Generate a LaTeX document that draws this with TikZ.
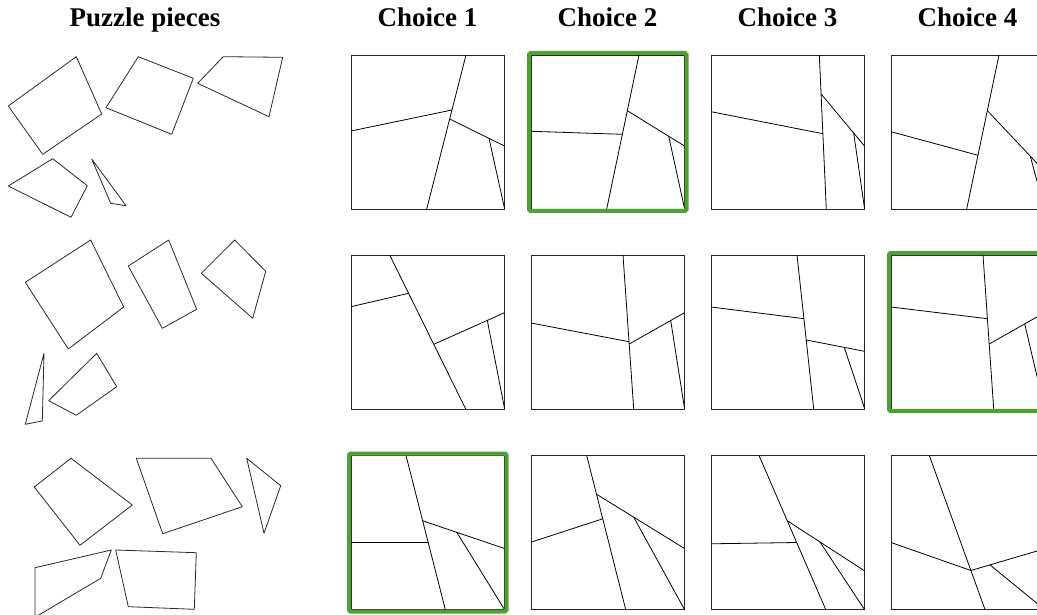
\documentclass[tikz,border=0pt]{standalone}
\usepackage{fontspec}
\setmainfont{Liberation Serif}
\definecolor{pickgreen}{RGB}{78, 161, 51}
\definecolor{edgegray}{RGB}{40, 40, 40}

\begin{document}
\begin{tikzpicture}[x=1pt, y=-1pt,
  heading/.style={font=\fontsize{27}{30}\selectfont\bfseries, anchor=base, inner sep=0pt},
  piece/.style={draw=edgegray, line width=0.8pt, line join=round},
  board/.style={draw=edgegray, line width=0.8pt},
  cut/.style={draw=black, line width=0.8pt},
  pick/.style={draw=pickgreen, line width=4pt, rounded corners=1.5pt}
]
  \useasboundingbox (0,0) rectangle (1037,615);
  \clip (0,0) rectangle (1037,615);

  % headings
  \node[heading] (hpieces) at (145,26.5) {Puzzle pieces};
  \node[heading] (hc1) at (427.5,26.5) {Choice 1};
  \node[heading] (hc2) at (607.5,26.5) {Choice 2};
  \node[heading] (hc3) at (787.5,26.5) {Choice 3};
  \node[heading] (hc4) at (967.5,26.5) {Choice 4};

  % puzzle 1: pieces
  \draw[piece] (76.3,56.7) -- (101.7,114) -- (42.7,154.3) -- (8.3,106) -- cycle;
  \draw[piece] (138.3,56.7) -- (193.3,78.3) -- (171.7,134.3) -- (106,107.7) -- cycle;
  \draw[piece] (223.3,56.7) -- (282.7,57.3) -- (269,116.7) -- (197.7,83.3) -- cycle;
  \draw[piece] (52.7,158.7) -- (87.3,185.7) -- (71,217.3) -- (8.3,186) -- cycle;
  \draw[piece] (91.7,159) -- (126,205.7) -- (110.7,203.3) -- cycle;

  % puzzle 2: pieces
  \draw[piece] (90.7,240) -- (123.7,307) -- (68.3,349) -- (25.3,282.3) -- cycle;
  \draw[piece] (168.7,240) -- (196.7,309.3) -- (162.3,328.3) -- (128.3,266) -- cycle;
  \draw[piece] (234.7,240) -- (265.7,271.3) -- (252.7,318.3) -- (201.3,273.3) -- cycle;
  \draw[piece] (44,353.3) -- (42.3,421) -- (25.3,424.3) -- cycle;
  \draw[piece] (96.7,353.3) -- (116.7,386.7) -- (76.3,415.3) -- (48.7,400.7) -- cycle;

  % puzzle 3: pieces
  \draw[piece] (71,458.3) -- (132.3,505) -- (80,545.3) -- (34.3,487) -- cycle;
  \draw[piece] (136.3,458.3) -- (211,458.3) -- (242.3,506.7) -- (162.7,533.7) -- cycle;
  \draw[piece] (246.7,458.3) -- (280.7,485.7) -- (264,533.3) -- cycle;
  \draw[piece] (35,567.7) -- (111.3,550) -- (100.7,578.3) -- (35,617.3) -- cycle;
  \draw[piece] (115.7,550) -- (196.3,552.7) -- (194.3,609.3) -- (128.3,606.7) -- cycle;

  % puzzle 1: choices
  \begin{scope}[shift={(351,55)}]
    \draw[board] (0,0) rectangle (153.5,154);
    \draw[cut] (115,0) -- (75.7,154);
    \draw[cut] (0,76) -- (101,55);
    \draw[cut] (98.7,64) -- (153.5,91);
    \draw[cut] (138,83.4) -- (153.5,153.3);
  \end{scope}
  \begin{scope}[shift={(531,55)}]
    \draw[board] (0,0) rectangle (153.5,154);
    \draw[cut] (108,0) -- (75.7,154);
    \draw[cut] (0,76.3) -- (91.4,79.3);
    \draw[cut] (96.3,55.7) -- (153.5,91);
    \draw[cut] (137.7,81.2) -- (153.5,153.3);
    \draw[pick] (-2,-2) rectangle (155.5,156);
  \end{scope}
  \begin{scope}[shift={(711,55)}]
    \draw[board] (0,0) rectangle (153.5,154);
    \draw[cut] (108.3,0) -- (115.3,154);
    \draw[cut] (0,56.7) -- (111.9,78.7);
    \draw[cut] (110.1,39) -- (153.5,91);
    \draw[cut] (142.7,78.1) -- (153.5,153.3);
  \end{scope}
  \begin{scope}[shift={(891,55)}]
    \draw[board] (0,0) rectangle (153.5,154);
    \draw[cut] (108,0) -- (75.7,154);
    \draw[cut] (0,76.7) -- (87,100.3);
    \draw[cut] (96.7,56) -- (153.5,116.3);
    \draw[cut] (139.3,101.2) -- (153.5,154);
  \end{scope}

  % puzzle 2: choices
  \begin{scope}[shift={(351,255)}]
    \draw[board] (0,0) rectangle (153.5,154);
    \draw[cut] (38.7,0) -- (114.7,154);
    \draw[cut] (0,51.7) -- (57.6,38.3);
    \draw[cut] (82.8,89.3) -- (153.5,57.7);
    \draw[cut] (136.3,65.4) -- (153.5,153.3);
  \end{scope}
  \begin{scope}[shift={(531,255)}]
    \draw[board] (0,0) rectangle (153.5,154);
    \draw[cut] (92,0) -- (102.7,154);
    \draw[cut] (0,68) -- (98,86.7);
    \draw[cut] (98.2,89) -- (153.5,57.7);
    \draw[cut] (139.7,65.5) -- (153.5,153.3);
  \end{scope}
  \begin{scope}[shift={(711,255)}]
    \draw[board] (0,0) rectangle (153.5,154);
    \draw[cut] (86,0) -- (102.7,154);
    \draw[cut] (0,52) -- (92.9,63.7);
    \draw[cut] (95.2,85) -- (153.5,96.3);
    \draw[cut] (133.3,92.4) -- (153.5,153.3);
  \end{scope}
  \begin{scope}[shift={(891,255)}]
    \draw[board] (0,0) rectangle (153.5,154);
    \draw[cut] (92,0) -- (102.7,154);
    \draw[cut] (0,52) -- (96.4,63.7);
    \draw[cut] (98.2,89) -- (153.5,57.7);
    \draw[cut] (133.7,68.9) -- (153.5,153.3);
    \draw[pick] (-2,-2) rectangle (155.5,156);
  \end{scope}

  % puzzle 3: choices
  \begin{scope}[shift={(351,455.5)}]
    \draw[board] (0,0) rectangle (153.5,154);
    \draw[cut] (55,0) -- (94.3,154);
    \draw[cut] (0,86.7) -- (77.1,86.7);
    \draw[cut] (71.7,65.3) -- (153.5,93);
    \draw[cut] (105.7,76.7) -- (153.5,154);
    \draw[pick] (-2,-2) rectangle (155.5,156);
  \end{scope}
  \begin{scope}[shift={(531,455.5)}]
    \draw[board] (0,0) rectangle (153.5,154);
    \draw[cut] (55.7,0) -- (94.7,154);
    \draw[cut] (0,86.7) -- (71.7,63.3);
    \draw[cut] (65.5,38.7) -- (153.5,93);
    \draw[cut] (102.7,61.7) -- (153.5,154);
  \end{scope}
  \begin{scope}[shift={(711,455.5)}]
    \draw[board] (0,0) rectangle (153.5,154);
    \draw[cut] (48,0) -- (114.7,154);
    \draw[cut] (0,88.3) -- (85.7,87);
    \draw[cut] (76.3,65.3) -- (153.5,115.3);
    \draw[cut] (108.7,86.1) -- (153.5,154);
  \end{scope}
  \begin{scope}[shift={(891,455.5)}]
    \draw[board] (0,0) rectangle (153.5,154);
    \draw[cut] (38.3,0) -- (94,154);
    \draw[cut] (0,87) -- (79.9,115) -- (153.5,93.3);
    \draw[cut] (99,109.4) -- (153.5,154);
  \end{scope}
\end{tikzpicture}
\end{document}
